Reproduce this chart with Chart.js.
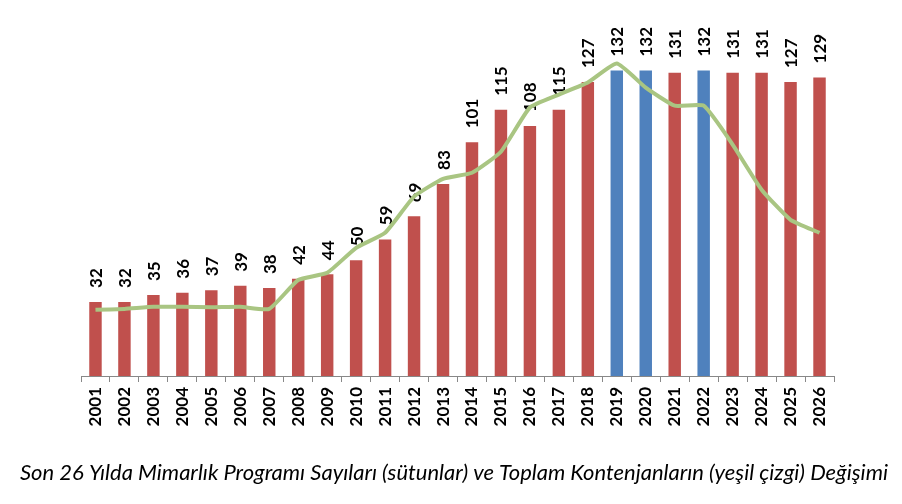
<!DOCTYPE html>
<html>
<head>
<meta charset="utf-8">
<script src="https://cdn.jsdelivr.net/npm/chart.js@4.4.1/dist/chart.umd.min.js"></script>
<style>
html,body{margin:0;padding:0;background:#fff;}
#wrap{width:902px;height:504px;position:relative;}
</style>
</head>
<body>
<div id="wrap"><canvas id="c" width="902" height="504"></canvas></div>
<script>
const years = ["2001","2002","2003","2004","2005","2006","2007","2008","2009","2010","2011","2012","2013","2014","2015","2016","2017","2018","2019","2020","2021","2022","2023","2024","2025","2026"];
const programCounts = [32,32,35,36,37,39,38,42,44,50,59,69,83,101,115,108,115,127,132,132,131,132,131,131,127,129];
const highlightedYears = ["2019","2020","2022"];
// Total quota trend (relative scale)
const totalQuotaTrend = [28.6,29.0,29.9,29.9,29.7,29.9,29.0,41.5,44.6,55.4,61.9,77.5,85.2,87.8,96.9,116.0,121.6,126.8,135.0,124.6,116.8,116.8,100.0,80.5,67.5,61.9];
const titleText = "Son 26 Yılda Mimarlık Programı Sayıları (sütunlar) ve Toplam Kontenjanların (yeşil çizgi) Değişimi";

const RED = "#C0504D", BLUE = "#4F81BD", GREEN = "#A9C582";
const barColors = years.map(y => highlightedYears.includes(y) ? BLUE : RED);

const valueLabels = {
  id: 'valueLabels',
  afterDatasetDraw(chart, args) {
    if (args.index !== 0) return;
    const ctx = chart.ctx;
    const meta = chart.getDatasetMeta(0);
    ctx.save();
    ctx.font = "bold 17px Lato";
    ctx.fillStyle = "#000";
    ctx.textAlign = "left";
    ctx.textBaseline = "middle";
    meta.data.forEach((el, i) => {
      ctx.save();
      ctx.translate(el.x + 1, el.y - 14);
      ctx.rotate(-Math.PI / 2);
      ctx.fillText(String(programCounts[i]), 0, 0);
      ctx.restore();
    });
    ctx.restore();
  }
};

const bottomTitle = {
  id: 'bottomTitle',
  afterDraw(chart) {
    const ctx = chart.ctx;
    ctx.save();
    ctx.font = "italic 20px Lato";
    const w = ctx.measureText(titleText).width;
    const size = 20 * 868 / w;
    ctx.font = "italic " + size.toFixed(2) + "px Lato";
    ctx.fillStyle = "#000";
    ctx.textAlign = "center";
    ctx.textBaseline = "alphabetic";
    ctx.fillText(titleText, 454, 480);
    ctx.restore();
  }
};

new Chart(document.getElementById('c'), {
  type: 'bar',
  data: {
    labels: years,
    datasets: [
      {
        type: 'bar',
        label: 'Program Sayısı',
        data: programCounts,
        backgroundColor: barColors,
        barPercentage: 0.86,
        categoryPercentage: 0.5,
        order: 1
      },
      {
        type: 'line',
        label: 'Toplam Kontenjan',
        data: totalQuotaTrend,
        borderColor: GREEN,
        borderWidth: 4,
        pointRadius: 0,
        tension: 0.15,
        fill: false,
        order: 0
      }
    ]
  },
  options: {
    responsive: false,
    animation: false,
    devicePixelRatio: 1,
    layout: { padding: { left: 81, right: 68, top: 52, bottom: 68 } },
    plugins: { legend: { display: false }, tooltip: { enabled: false }, title: { display: false } },
    scales: {
      x: {
        offset: true,
        grid: { offset: true, drawOnChartArea: false, drawTicks: true, tickLength: 6, color: "#888" },
        border: { display: true, color: "#888", width: 1 },
        ticks: {
          minRotation: 90, maxRotation: 90, autoSkip: false,
          color: "#000", font: { family: "Lato", weight: "bold", size: 17 }, padding: 5
        },
        afterFit(scale) { scale.height = 60; }
      },
      y: {
        display: false,
        min: 0, max: 140
      }
    }
  },
  plugins: [valueLabels, bottomTitle]
});
</script>
</body>
</html>
